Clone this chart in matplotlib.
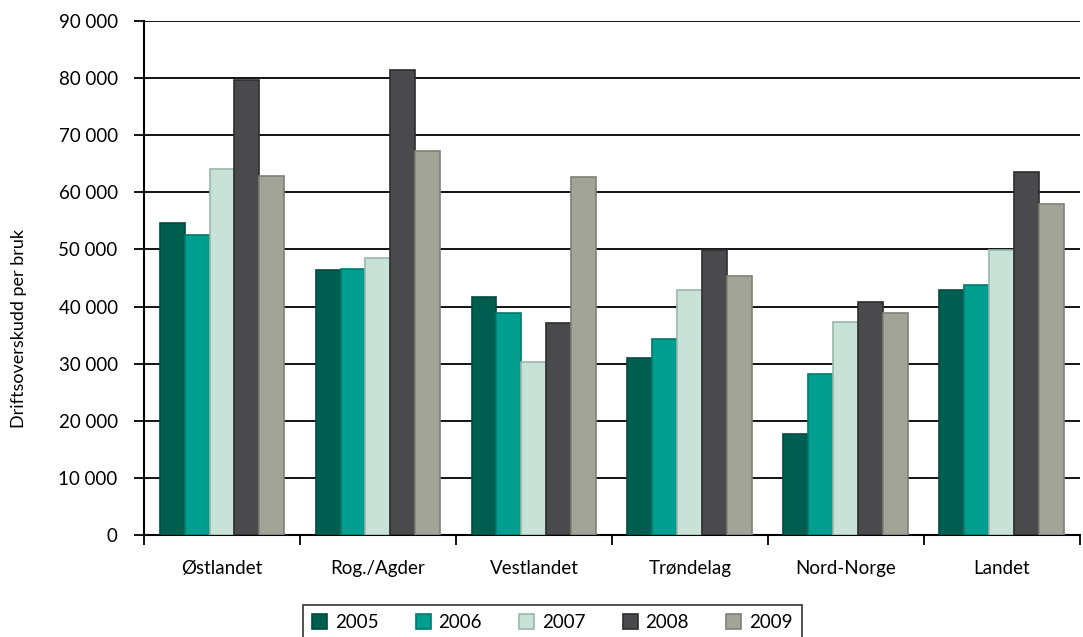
import numpy as np
import matplotlib
matplotlib.use("Agg")
import matplotlib.pyplot as plt
from matplotlib.ticker import FuncFormatter

plt.rcParams['font.family'] = ['Lato', 'DejaVu Sans']

regions = ['Østlandet', 'Rog./Agder', 'Vestlandet', 'Trøndelag', 'Nord-Norge', 'Landet']
years = ['2005', '2006', '2007', '2008', '2009']
v2005 = [54600, 46400, 41700, 31000, 17700, 42900]
v2006 = [52500, 46600, 38900, 34300, 28200, 43800]
v2007 = [64100, 48500, 30300, 42900, 37300, 49900]
v2008 = [79700, 81400, 37100, 49900, 40800, 63600]
v2009 = [62900, 67200, 62700, 45400, 38900, 58000]
series = [v2005, v2006, v2007, v2008, v2009]

colors = ['#005e50', '#009e8e', '#c8e2d8', '#4a4a4d', '#a2a498']
edges = ['#004a40', '#007a6e', '#98b8ac', '#2e2e30', '#7f8276']

fig = plt.figure(figsize=(10.83, 6.37), dpi=100)
ax = fig.add_axes([0.133, 0.160, 0.864, 0.807])

x = np.arange(len(regions))
w = 0.16
for i, (vals, c, ec, yr) in enumerate(zip(series, colors, edges, years)):
    ax.bar(x + (i - 2) * w, vals, width=w, color=c, edgecolor=ec, linewidth=1.2,
           label=yr, zorder=3)

ax.set_xlim(-0.5, len(regions) - 0.5)
ax.set_ylim(0, 90000)
ax.set_yticks(np.arange(0, 90001, 10000))
ax.yaxis.set_major_formatter(FuncFormatter(lambda v, p: f'{int(v):,}'.replace(',', ' ')))
ax.grid(axis='y', color='black', linewidth=1.3, zorder=0)

ax.set_xticks(x)
ax.set_xticklabels(regions, fontsize=13.5)
ax.tick_params(axis='x', length=0, pad=18)
ax.set_xticks(np.arange(-0.5, len(regions)), minor=True)
ax.tick_params(axis='x', which='minor', length=7, width=1.3)
ax.tick_params(axis='y', labelsize=13.5, length=7, width=1.3, pad=12)

for s in ['top', 'right']:
    ax.spines[s].set_visible(False)
ax.spines['left'].set_linewidth(1.5)
ax.spines['bottom'].set_linewidth(1.5)

fig.text(0.018, 0.485, 'Driftsoverskudd per bruk', rotation=90, va='center', ha='center', fontsize=13)

leg = fig.legend(loc='lower center', bbox_to_anchor=(0.51, -0.02), ncol=5, fontsize=13.5,
                 frameon=True, fancybox=False, edgecolor='black', handlelength=0.8,
                 handleheight=0.8, columnspacing=2.0, handletextpad=0.4, borderpad=0.5)
leg.get_frame().set_linewidth(1.2)

fig.savefig('out.png', dpi=100)
